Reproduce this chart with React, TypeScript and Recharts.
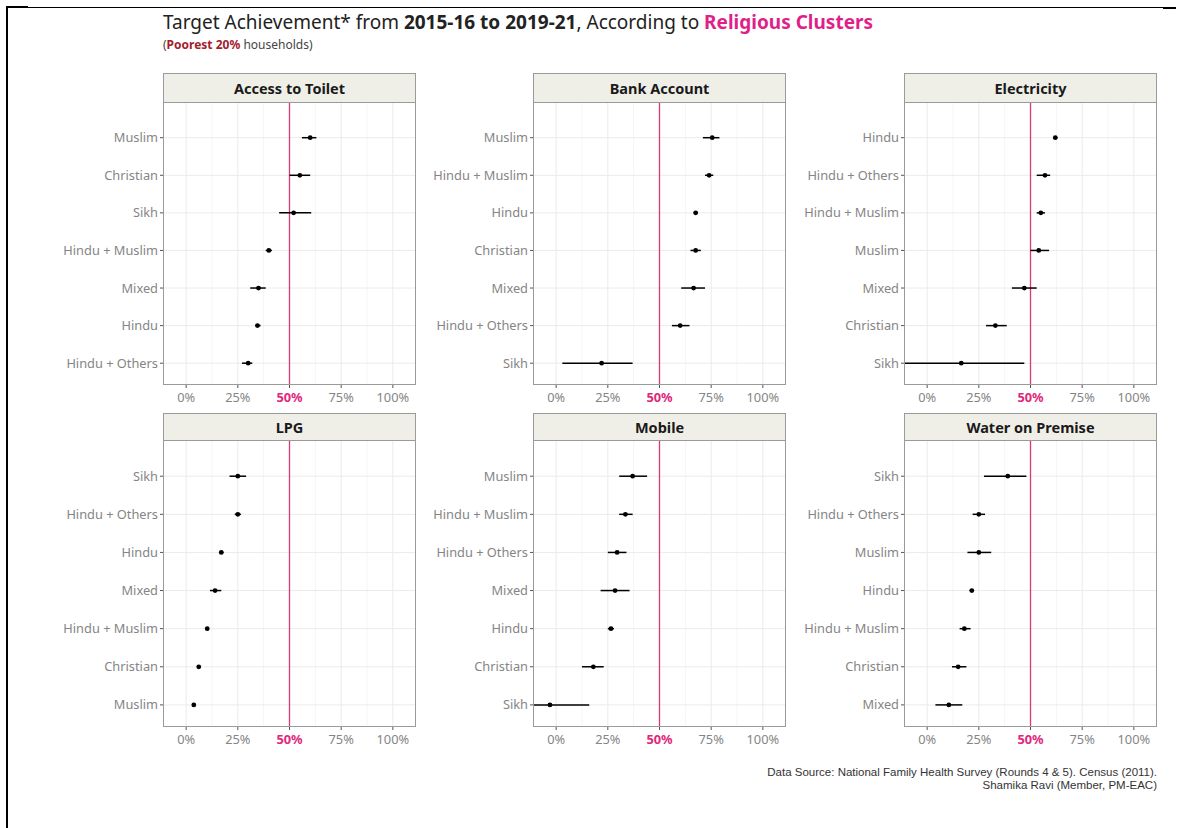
import React from "react";
import {
  ScatterChart,
  Scatter,
  XAxis,
  YAxis,
  ErrorBar,
  ReferenceLine,
} from "recharts";

const PINK = "#e0287d";
const GRID = "#ebebeb";
const GRID_MINOR = "#f5f5f5";
const FONT = "'Noto Sans', 'Open Sans', sans-serif";

const X_MIN = -11.2;
const X_MAX = 111.2;
const X_TICKS = [0, 25, 50, 75, 100];
const X_MINOR = [12.5, 37.5, 62.5, 87.5];

// groups are listed top to bottom as in the picture
const TOILET_GROUPS = ["Muslim", "Christian", "Sikh", "Hindu + Muslim", "Mixed", "Hindu", "Hindu + Others"];
const TOILET_EST = [60, 55, 52, 40, 35, 34.5, 30];
const TOILET_LO = [56, 50, 45, 38.5, 31, 33.5, 27];
const TOILET_HI = [63, 60, 60.5, 41.5, 38.5, 36, 32];

const BANK_GROUPS = ["Muslim", "Hindu + Muslim", "Hindu", "Christian", "Mixed", "Hindu + Others", "Sikh"];
const BANK_EST = [75.5, 74, 67.5, 67.5, 66.5, 60, 22];
const BANK_LO = [71, 72, 66.5, 65, 60.5, 56, 3];
const BANK_HI = [79, 76, 68.5, 70, 72, 64.5, 37];

const ELEC_GROUPS = ["Hindu", "Hindu + Others", "Hindu + Muslim", "Muslim", "Mixed", "Christian", "Sikh"];
const ELEC_EST = [62, 57, 55, 54, 47, 33, 16.5];
const ELEC_LO = [61, 53, 53, 50, 41, 28.5, -11];
const ELEC_HI = [63, 59.5, 57, 59, 53, 38.5, 47];

const LPG_GROUPS = ["Sikh", "Hindu + Others", "Hindu", "Mixed", "Hindu + Muslim", "Christian", "Muslim"];
const LPG_EST = [25, 25, 17, 14, 10.2, 6.1, 3.7];
const LPG_LO = [21, 23.5, 16, 11.5, 9.5, 5.5, 3.2];
const LPG_HI = [29, 26.5, 18, 17, 11, 7, 4.3];

const MOBILE_GROUPS = ["Muslim", "Hindu + Muslim", "Hindu + Others", "Mixed", "Hindu", "Christian", "Sikh"];
const MOBILE_EST = [37, 33.5, 29.5, 28.5, 26.5, 18, -3];
const MOBILE_LO = [30.5, 30.5, 25, 21.5, 25, 12.5, -11];
const MOBILE_HI = [44, 37, 34, 35.5, 28, 23, 16];

const WATER_GROUPS = ["Sikh", "Hindu + Others", "Muslim", "Hindu", "Hindu + Muslim", "Christian", "Mixed"];
const WATER_EST = [39, 25, 25, 21.6, 18, 15, 10.5];
const WATER_LO = [27.5, 22, 19.5, 20.6, 15.7, 12, 4];
const WATER_HI = [48, 28, 31, 22.6, 21, 19, 17];

const PLOT_W = 253;
const Y_AXIS_W = 130;
const TICK_FS = 12.8;

function XTick(props: any) {
  const { x, y, payload } = props;
  const is50 = payload.value === 50;
  return (
    <text
      x={x}
      y={y + 12}
      textAnchor="middle"
      fontFamily={FONT}
      fontSize={TICK_FS}
      fontWeight={is50 ? 700 : 400}
      fill={is50 ? PINK : "#858585"}
    >
      {payload.value}%
    </text>
  );
}

function Panel({ title, groups, est, lo, hi, left, stripTop, plotTop, plotH }: any) {
  const n = groups.length;
  const data = groups.map((g: string, i: number) => ({
    name: g,
    x: est[i],
    y: n - i,
    err: [est[i] - lo[i], hi[i] - est[i]],
  }));
  const yTicks = groups.map((_: string, i: number) => n - i);

  return (
    <>
      <div
        style={{
          position: "absolute",
          left,
          top: stripTop,
          width: PLOT_W,
          height: plotTop - stripTop + 1,
          boxSizing: "border-box",
          border: "1px solid #9a9a9a",
          background: "#efefe8",
          fontFamily: FONT,
          fontWeight: 700,
          fontSize: 14.5,
          color: "#1a1a1a",
          textAlign: "center",
          lineHeight: `${plotTop - stripTop - 1}px`,
        }}
      >
        {title}
      </div>
      <div style={{ position: "absolute", left: left - Y_AXIS_W, top: plotTop }}>
        <ScatterChart
          width={Y_AXIS_W + PLOT_W + 5}
          height={plotH + 30}
          margin={{ top: 0, right: 5, bottom: 0, left: 0 }}
        >
          <XAxis
            type="number"
            dataKey="x"
            domain={[X_MIN, X_MAX]}
            ticks={X_TICKS}
            allowDataOverflow
            axisLine={false}
            tickSize={3}
            tickLine={{ stroke: "#555" }}
            tick={<XTick />}
            height={30}
          />
          <YAxis
            type="number"
            dataKey="y"
            domain={[0.42, n + 0.95]}
            ticks={yTicks}
            allowDataOverflow
            width={Y_AXIS_W}
            axisLine={false}
            tickSize={3}
            tickLine={{ stroke: "#555" }}
            tickFormatter={(v: number) => groups[n - v]}
            tick={{ fill: "#858585", fontSize: TICK_FS, fontFamily: FONT }}
          />
          {X_MINOR.map((v) => (
            <ReferenceLine key={"mn" + v} x={v} stroke={GRID_MINOR} strokeWidth={1} />
          ))}
          {X_TICKS.map((v) => (
            <ReferenceLine key={"mj" + v} x={v} stroke={GRID} strokeWidth={1} />
          ))}
          {yTicks.map((v: number) => (
            <ReferenceLine key={"h" + v} y={v} stroke={GRID} strokeWidth={1} />
          ))}
          <ReferenceLine x={50} stroke="#d83a78" strokeWidth={1.3} />
          <Scatter
            data={data}
            isAnimationActive={false}
            shape={(p: any) => <circle cx={p.cx} cy={p.cy} r={2.4} fill="#000" />}
          >
            <ErrorBar dataKey="err" direction="x" width={0} stroke="#000" strokeWidth={1.5} />
          </Scatter>
        </ScatterChart>
      </div>
      <div
        style={{
          position: "absolute",
          left,
          top: plotTop,
          width: PLOT_W,
          height: plotH,
          boxSizing: "border-box",
          border: "1px solid #9a9a9a",
          pointerEvents: "none",
        }}
      />
    </>
  );
}

const COLS = [163, 533, 904];

export default function App() {
  return (
    <div
      style={{
        position: "absolute",
        left: 0,
        top: 0,
        width: 1184,
        height: 828,
        background: "#fff",
        overflow: "hidden",
      }}
    >
      {/* frame */}
      <div style={{ position: "absolute", left: 6, top: 7, width: 2, height: 821, background: "#000" }} />
      <div style={{ position: "absolute", left: 6, top: 7, width: 1170, height: 1, background: "#000" }} />
      <div style={{ position: "absolute", left: 6, top: 6, width: 22, height: 2, background: "#000" }} />
      <div style={{ position: "absolute", left: 1163, top: 7, width: 13, height: 2, background: "#000" }} />

      <div
        style={{
          position: "absolute",
          left: 163,
          top: 9,
          fontFamily: FONT,
          fontSize: 19,
          color: "#222",
          whiteSpace: "nowrap",
        }}
      >
        Target Achievement* from <b>2015-16 to 2019-21</b>, According to{" "}
        <b style={{ color: "#e01f8a" }}>Religious Clusters</b>
      </div>
      <div
        style={{
          position: "absolute",
          left: 163,
          top: 36,
          fontFamily: FONT,
          fontSize: 12,
          color: "#444",
          whiteSpace: "nowrap",
        }}
      >
        (<b style={{ color: "#a3202c" }}>Poorest 20%</b> households)
      </div>

      <Panel title="Access to Toilet" groups={TOILET_GROUPS} est={TOILET_EST} lo={TOILET_LO} hi={TOILET_HI}
        left={COLS[0]} stripTop={73} plotTop={102} plotH={283} />
      <Panel title="Bank Account" groups={BANK_GROUPS} est={BANK_EST} lo={BANK_LO} hi={BANK_HI}
        left={COLS[1]} stripTop={73} plotTop={102} plotH={283} />
      <Panel title="Electricity" groups={ELEC_GROUPS} est={ELEC_EST} lo={ELEC_LO} hi={ELEC_HI}
        left={COLS[2]} stripTop={73} plotTop={102} plotH={283} />
      <Panel title="LPG" groups={LPG_GROUPS} est={LPG_EST} lo={LPG_LO} hi={LPG_HI}
        left={COLS[0]} stripTop={413} plotTop={440} plotH={287} />
      <Panel title="Mobile" groups={MOBILE_GROUPS} est={MOBILE_EST} lo={MOBILE_LO} hi={MOBILE_HI}
        left={COLS[1]} stripTop={413} plotTop={440} plotH={287} />
      <Panel title="Water on Premise" groups={WATER_GROUPS} est={WATER_EST} lo={WATER_LO} hi={WATER_HI}
        left={COLS[2]} stripTop={413} plotTop={440} plotH={287} />

      <div
        style={{
          position: "absolute",
          right: 1184 - 1157,
          top: 766,
          fontFamily: "'Liberation Sans', Arial, sans-serif",
          fontSize: 11.5,
          lineHeight: "13px",
          color: "#333",
          textAlign: "right",
          whiteSpace: "nowrap",
        }}
      >
        Data Source: National Family Health Survey (Rounds 4 &amp; 5). Census (2011).
        <br />
        Shamika Ravi (Member, PM-EAC)
      </div>
    </div>
  );
}
